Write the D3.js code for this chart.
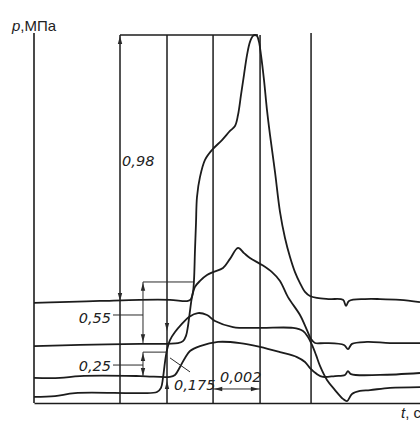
<!DOCTYPE html>
<html><head><meta charset="utf-8">
<script src="https://cdn.jsdelivr.net/npm/d3@7"></script>
<style>html,body{margin:0;padding:0;background:#fff;} svg{display:block;}</style>
</head><body>
<svg id="chart" width="420" height="421"></svg>
<script>
// ---- data: time t in ms, pressure p in MPa ----
const gridTimes = [3.66, 5.66, 7.62, 9.62, 11.79];
const dimLabels = ["0,98", "0,55", "0,25", "0,175"];
const intervalLabel = "0,002";
const yAxisLabel = ["p", ",МПа"];
const xAxisLabel = ["t", ", c"];

const trace1 = [[0,0.364],[1.106,0.367],[2.809,0.371],[4.511,0.375],[5.787,0.375],[6.553,0.371],[6.681,0.378],[6.766,0.404],[6.809,0.447],[6.851,0.556],[6.894,0.655],[6.936,0.749],[7.064,0.822],[7.277,0.884],[7.574,0.92],[8.0,0.956],[8.34,0.989],[8.553,1.007],[8.681,1.047],[8.809,1.12],[8.936,1.193],[9.064,1.265],[9.191,1.313],[9.319,1.335],[9.404,1.338],[9.489,1.335],[9.574,1.313],[9.66,1.265],[9.787,1.175],[9.915,1.065],[10.043,0.975],[10.255,0.84],[10.468,0.695],[10.681,0.6],[10.894,0.531],[11.106,0.476],[11.319,0.436],[11.532,0.404],[11.745,0.389],[12.043,0.382],[12.596,0.378],[13.149,0.375],[13.277,0.353],[13.404,0.371],[14.085,0.378],[14.723,0.378],[15.574,0.375],[16.426,0.367]];

const trace2 = [[0,0.207],[1.957,0.211],[4.511,0.215],[6.128,0.218],[6.34,0.225],[6.468,0.244],[6.553,0.28],[6.638,0.335],[6.723,0.385],[6.851,0.422],[7.064,0.444],[7.362,0.465],[7.617,0.476],[8.043,0.491],[8.34,0.524],[8.681,0.564],[8.936,0.545],[9.191,0.527],[9.702,0.502],[10.128,0.476],[10.468,0.444],[10.809,0.385],[11.319,0.32],[11.617,0.265],[11.787,0.233],[11.957,0.218],[12.383,0.218],[13.191,0.211],[13.362,0.196],[13.532,0.215],[14.17,0.222],[15.149,0.218],[16.426,0.218]];

const trace3 = [[0,0.091],[1.106,0.091],[1.957,0.098],[4.511,0.098],[5.787,0.095],[6.0,0.102],[6.213,0.131],[6.426,0.164],[6.638,0.189],[7.064,0.207],[7.83,0.222],[8.766,0.218],[9.617,0.204],[10.468,0.185],[11.191,0.167],[11.532,0.149],[11.745,0.127],[12.043,0.105],[12.298,0.095],[12.809,0.098],[13.234,0.102],[13.362,0.116],[13.489,0.105],[14.723,0.102],[16.426,0.109]];

const trace4 = [[0,0.022],[0.894,0.025],[1.745,0.036],[4.511,0.036],[5.234,0.04],[5.404,0.055],[5.489,0.091],[5.574,0.149],[5.66,0.193],[5.787,0.229],[6.0,0.258],[6.255,0.284],[6.596,0.313],[6.979,0.327],[7.362,0.32],[7.702,0.298],[8.468,0.276],[9.617,0.273],[11.021,0.273],[11.447,0.262],[11.66,0.24],[11.83,0.211],[12.0,0.175],[12.17,0.135],[12.468,0.084],[12.809,0.047],[13.149,0.015],[13.319,0.007],[13.532,0.033],[13.872,0.044],[14.298,0.047],[15.149,0.055],[16.426,0.058]];

const traces = [trace1, trace2, trace3, trace4];

// ---- drawing ----
const svg = d3.select("#chart");
svg.append("rect").attr("width",420).attr("height",421).attr("fill","#fff");
const x = d3.scaleLinear().domain([0, 16.426]).range([34, 420]);
const y = d3.scaleLinear().domain([0, 1.338]).range([403, 35]);
const ink = "#1c1c1c";

// axes (domain lines only)
const gx = svg.append("g").attr("transform", `translate(0,${y(0)})`)
  .call(d3.axisBottom(x).ticks(0).tickSizeOuter(0));
const gy = svg.append("g").attr("transform", `translate(${x(0)},0)`)
  .call(d3.axisLeft(y).ticks(0).tickSizeOuter(0));
[gx, gy].forEach(g => g.select(".domain").attr("stroke", ink).attr("stroke-width", 1.6));
gy.select(".domain").attr("d", `M0,${y(0)}V${y(1.338)-2}`);

// vertical grid (time marks)
svg.append("g").selectAll("line").data(gridTimes).join("line")
  .attr("x1", d => x(d)).attr("x2", d => x(d))
  .attr("y1", y(0)).attr("y2", (d,i) => i === gridTimes.length-1 ? y(1.338)-2 : y(1.338))
  .attr("stroke", ink).attr("stroke-width", 1.5);

// peak extension line
const peak = d3.greatest(trace1, d => d[1]);
svg.append("line").attr("x1", x(gridTimes[0])).attr("x2", x(peak[0]) + 3)
  .attr("y1", y(peak[1])).attr("y2", y(peak[1])).attr("stroke", ink).attr("stroke-width", 1.5);

// traces
const line = d3.line().x(d => x(d[0])).y(d => y(d[1])).curve(d3.curveCatmullRom.alpha(0.5));
svg.append("g").selectAll("path").data(traces).join("path")
  .attr("d", line).attr("fill", "none").attr("stroke", ink)
  .attr("stroke-width", 1.8).attr("stroke-linejoin", "round");

// helpers
const dimC = "#2a2a2a";
function seg(t1, p1, t2, p2, w) {
  svg.append("line").attr("x1", x(t1)).attr("y1", y(p1)).attr("x2", x(t2)).attr("y2", y(p2))
    .attr("stroke", dimC).attr("stroke-width", w || 1);
}
function arrow(t, p, dir) {
  const px = x(t), py = y(p), L = 8, h = 2.2;
  let pts;
  if (dir === "up") pts = [[px,py],[px-h,py+L],[px+h,py+L]];
  else if (dir === "down") pts = [[px,py],[px-h,py-L],[px+h,py-L]];
  else if (dir === "left") pts = [[px,py],[px+L,py-h],[px+L,py+h]];
  else pts = [[px,py],[px-L,py-h],[px-L,py+h]];
  svg.append("path").attr("d", "M" + pts.join("L") + "Z").attr("fill", dimC);
}
function label(t, p, txt, anchor, size) {
  svg.append("text").attr("x", x(t)).attr("y", y(p)).text(txt)
    .attr("text-anchor", anchor || "start")
    .attr("font-family", "'DejaVu Sans', sans-serif").attr("font-style", "italic")
    .attr("font-size", size || 14.5).attr("fill", "#222");
}

// 0,98 dimension (on first grid line)
arrow(gridTimes[0], peak[1] - 0.004, "up");
arrow(gridTimes[0], trace1[2][1], "down");
label(3.75, 0.862, dimLabels[0]);

// 0,55 dimension
const dimT = 4.638;
seg(dimT, 0.218, dimT, 0.44);
seg(dimT, 0.44, 6.766, 0.44);
arrow(dimT, 0.437, "up"); arrow(dimT, 0.221, "down");
seg(3.362, 0.32, dimT, 0.32);
label(3.277, 0.291, dimLabels[1], "end");

// 0,25 dimension
seg(dimT, 0.095, dimT, 0.185);
seg(dimT, 0.185, gridTimes[1], 0.185);
arrow(dimT, 0.182, "up"); arrow(dimT, 0.098, "down");
seg(3.362, 0.138, dimT, 0.138);
label(3.277, 0.116, dimLabels[2], "end");

// 0,175 dimension
arrow(gridTimes[1], 0.262, "down"); arrow(gridTimes[1], 0.08, "up");
seg(5.787, 0.164, 6.638, 0.113);
label(5.957, 0.047, dimLabels[3]);

// 0,002 interval
seg(gridTimes[2], 0.051, gridTimes[3], 0.051);
arrow(gridTimes[2] + 0.05, 0.051, "left"); arrow(gridTimes[3] - 0.05, 0.051, "right");
label(7.915, 0.076, intervalLabel);

// axis titles
const yt = svg.append("text").attr("x", 12).attr("y", 31)
  .attr("font-family", "'Liberation Sans', Arial, sans-serif").attr("font-size", 15).attr("fill", "#222");
yt.append("tspan").attr("font-style", "italic").text(yAxisLabel[0]);
yt.append("tspan").text(yAxisLabel[1]);
const xt = svg.append("text").attr("x", 401).attr("y", 418)
  .attr("font-family", "'Liberation Sans', Arial, sans-serif").attr("font-size", 15).attr("fill", "#222");
xt.append("tspan").attr("font-style", "italic").text(xAxisLabel[0]);
xt.append("tspan").text(xAxisLabel[1]);
</script>
</body></html>
